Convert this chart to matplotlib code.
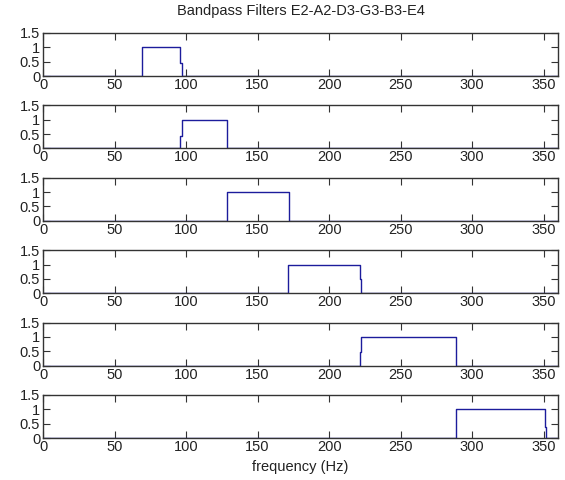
import matplotlib
matplotlib.use("Agg")
import matplotlib.pyplot as plt

# Filter pass bands (Hz) for each string note, with the fractional response
# of the single transition sample at the band edge.
notes = ["E2", "A2", "D3", "G3", "B3", "E4"]
band_lo = [69.3, 96.1, 128.3, 171.6, 221.5, 289.0]
band_hi = [96.1, 128.7, 171.9, 221.5, 289.0, 350.7]
edge_step = [0.45, 0.0, 0.0, 0.5, 0.0, 0.4]    # partial value just past the upper edge
rise_step = [0.0, 0.45, 0.0, 0.0, 0.48, 0.0]   # partial value just before full pass
step_width = 0.8

x_ticks = [0, 50, 100, 150, 200, 250, 300, 350]
y_ticks = [0, 0.5, 1, 1.5]
y_tick_labels = ["0", "0.5", "1", "1.5"]

plt.rcParams["font.family"] = ["Liberation Sans", "DejaVu Sans"]

fig = plt.figure(figsize=(5.65, 4.8), dpi=100)
W, H = 565, 480
left, right = 43, 558
top0, ax_h, pitch = 33, 43, 72.4

line_color = "#1c1c9c"
text_color = "#222222"

for i in range(len(notes)):
    top = top0 + i * pitch
    ax = fig.add_axes([left / W, 1 - (top + ax_h) / H, (right - left) / W, ax_h / H])
    lo, hi = band_lo[i], band_hi[i]
    xs = [0, lo]
    ys = [0, 0]
    if rise_step[i] > 0:
        xs += [lo, lo + step_width, lo + step_width]
        ys += [rise_step[i], rise_step[i], 1]
    else:
        xs += [lo]
        ys += [1]
    xs += [hi]
    ys += [1]
    if edge_step[i] > 0:
        xs += [hi, hi + step_width, hi + step_width]
        ys += [edge_step[i], edge_step[i], 0]
    else:
        xs += [hi]
        ys += [0]
    xs += [360]
    ys += [0]
    ax.plot(xs, ys, color=line_color, lw=1.0, clip_on=True)
    ax.set_xlim(0, 360)
    ax.set_ylim(0, 1.5)
    ax.set_xticks(x_ticks)
    ax.set_yticks(y_ticks)
    ax.set_yticklabels(y_tick_labels)
    ax.tick_params(direction="in", length=5, width=0.8, top=True, right=True,
                   labelsize=10.5, pad=1.5, colors="#333333", labelcolor=text_color)
    ax.tick_params(axis="y", pad=2)
    for s in ax.spines.values():
        s.set_linewidth(1.0)
        s.set_color("#333333")
    if i == 0:
        ax.set_title("Bandpass Filters " + "-".join(notes), fontsize=10.5, pad=13,
                     color=text_color)
    if i == len(notes) - 1:
        ax.set_xlabel("frequency (Hz)", fontsize=10.5, labelpad=4, color=text_color)

fig.savefig("out.png", dpi=100, facecolor="white")
